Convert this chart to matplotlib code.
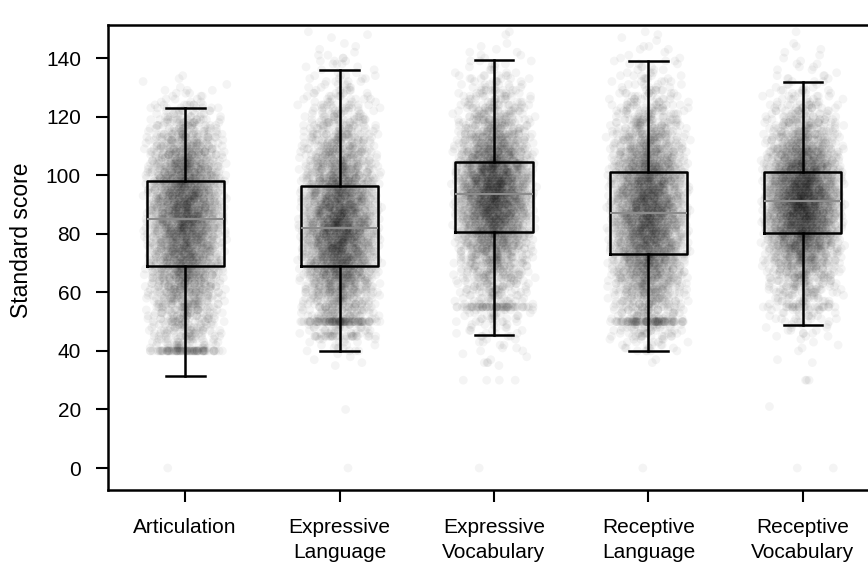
import numpy as np
import matplotlib
matplotlib.use("Agg")
import matplotlib.pyplot as plt

plt.rcParams['font.family'] = ['Liberation Sans', 'DejaVu Sans']

categories = ['Articulation', 'Expressive\nLanguage', 'Expressive\nVocabulary',
              'Receptive\nLanguage', 'Receptive\nVocabulary']

# box statistics
q1 = [69, 69, 80.7, 73, 80.1]
med = [84.9, 81.9, 93.7, 87.1, 91.2]
q3 = [98, 96.2, 104.5, 101.1, 101.2]
whislo = [31.6, 39.8, 45.4, 39.8, 48.7]
whishi = [123, 136, 139.2, 139, 131.9]

# number of children per 5-point score band (35-40, 40-45, ..., 145-150), estimated
bin_lo = [35, 40, 45, 50, 55, 60, 65, 70, 75, 80, 85, 90,
          95, 100, 105, 110, 115, 120, 125, 130, 135, 140, 145]
counts_artic = [0, 60, 75, 90, 110, 140, 175, 200, 215, 240, 250, 240,
                215, 190, 150, 110, 75, 40, 15, 5, 0, 0, 0]
counts_exp_lang = [5, 20, 50, 90, 110, 150, 200, 240, 260, 275, 250, 225,
                   190, 150, 120, 95, 70, 50, 32, 20, 12, 7, 4]
counts_exp_voc = [5, 10, 20, 35, 50, 70, 95, 125, 170, 225, 275, 300,
                  300, 260, 200, 150, 105, 75, 50, 30, 15, 7, 3]
counts_rec_lang = [2, 25, 55, 75, 100, 130, 165, 200, 225, 250, 260, 250,
                   230, 200, 155, 120, 88, 62, 40, 25, 15, 8, 4]
counts_rec_voc = [2, 5, 15, 30, 50, 75, 110, 160, 225, 290, 325, 340,
                  310, 250, 190, 125, 88, 55, 30, 15, 8, 5, 2]

# exact scores that pile up (floor scores) and isolated low scores
extra_scores = [[0, 40], [0, 20, 45, 50], [0, 30, 36, 55], [0, 50], [0, 21, 30, 55]]
extra_counts = [[1, 70], [1, 1, 18, 75], [1, 4, 2, 50], [1, 70], [2, 1, 3, 15]]

all_counts = [counts_artic, counts_exp_lang, counts_exp_voc, counts_rec_lang, counts_rec_voc]


def radical_inverse(n, base):
    # van der Corput sequence, used for a deterministic jitter
    out = np.zeros(len(n))
    f = 1.0 / base
    n = n.copy()
    while np.any(n > 0):
        out += f * (n % base)
        n //= base
        f /= base
    return out


fig = plt.figure(figsize=(8.68, 5.65), dpi=100)
ax = fig.add_axes([108 / 868, 75 / 565, 772 / 868, 465 / 565])

for i, counts in enumerate(all_counts):
    total = sum(counts)
    idx = np.arange(total) + 1 + 7000 * i
    u_in = radical_inverse(idx, 5)
    vals = []
    p = 0
    for lo, c in zip(bin_lo, counts):
        for k in range(c):
            vals.append(lo + np.floor(5 * u_in[p]))
            p += 1
    for s, c in zip(extra_scores[i], extra_counts[i]):
        vals += [s] * c
    vals = np.array(vals)
    m = np.arange(len(vals)) + 1 + 7000 * i
    jitter = (radical_inverse(m, 2) + radical_inverse(m, 3) - 1) * 0.28
    ax.scatter(i + jitter, vals, s=40, color='black', alpha=0.045,
               edgecolors='none', zorder=1)

stats = []
for i in range(len(categories)):
    stats.append(dict(med=med[i], q1=q1[i], q3=q3[i], whislo=whislo[i],
                      whishi=whishi[i], fliers=[]))
ax.bxp(stats, positions=range(len(categories)), widths=0.5, showfliers=False,
       boxprops=dict(color='black', linewidth=1.8),
       whiskerprops=dict(color='black', linewidth=1.8),
       capprops=dict(color='black', linewidth=1.8),
       medianprops=dict(color='#8c8c8c', linewidth=1.5),
       manage_ticks=False, zorder=3)

ax.set_xlim(-0.5, 4.5)
ax.set_ylim(-7.5, 151.3)
ax.set_yticks(range(0, 141, 20))
ax.set_xticks(range(len(categories)))
ax.set_xticklabels(categories, fontsize=15, linespacing=1.35)
ax.tick_params(axis='y', labelsize=15, length=8.5, width=1.5, pad=11)
ax.tick_params(axis='x', length=8.5, width=1.5, pad=12)
ax.set_ylabel('Standard score', fontsize=16.5)
ax.yaxis.set_label_coords(-0.097, 0.538)
for sp in ax.spines.values():
    sp.set_linewidth(1.8)

fig.savefig('out.png', dpi=100)
